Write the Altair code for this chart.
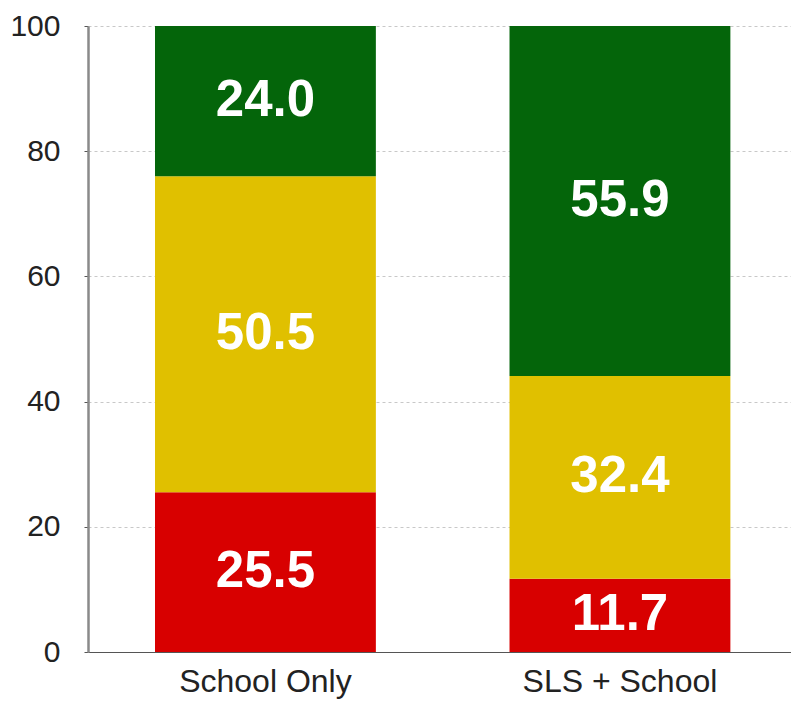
import altair as alt
import pandas as pd

categories = ["School Only", "SLS + School"]
levels = ["red", "yellow", "green"]
red_values = [25.5, 11.7]
yellow_values = [50.5, 32.4]
green_values = [24.0, 55.9]
level_colors = ["#D80000", "#E0C000", "#04650A"]
y_ticks = [0, 20, 40, 60, 80, 100]

rows = []
for i, cat in enumerate(categories):
    for j, (lvl, vals) in enumerate(zip(levels, [red_values, yellow_values, green_values])):
        rows.append({"category": cat, "level": lvl, "order": j, "value": vals[i]})
df = pd.DataFrame(rows)

FONT = "Liberation Sans"

base = alt.Chart(df).transform_stack(
    stack="value", groupby=["category"], as_=["y0", "y1"],
    sort=[alt.SortField("order", order="ascending")]
).transform_calculate(mid="(datum.y0 + datum.y1) / 2")

x_enc = alt.X(
    "category:N", sort=categories, title=None,
    scale=alt.Scale(paddingInner=0.377, paddingOuter=0.18, align=0.525),
    axis=alt.Axis(labelAngle=0, labelFontSize=32, labelFont=FONT, labelColor="#222222",
                  labelLimit=0, ticks=False, labelPadding=14,
                  domainColor="#555555", domainWidth=1.2),
)

bars = base.mark_bar().encode(
    x=x_enc,
    y=alt.Y("y0:Q", title=None, scale=alt.Scale(domain=[0, 100], nice=False),
            axis=alt.Axis(values=y_ticks, labelFontSize=30, labelFont=FONT, labelColor="#222222",
                          tickSize=4, tickColor="#555555", labelPadding=24,
                          domainColor="#8a8a8a", domainWidth=2.5,
                          grid=True, gridDash=[3, 3], gridColor="#c8c8c8", gridWidth=1)),
    y2="y1:Q",
    color=alt.Color("level:N", scale=alt.Scale(domain=levels, range=level_colors), legend=None),
)

labels = base.mark_text(
    color="white", font=FONT, fontWeight="bold", fontSize=51, baseline="middle", align="center"
).encode(
    x=alt.X("category:N", sort=categories),
    y=alt.Y("mid:Q"),
    text=alt.Text("value:Q", format=".1f"),
)

chart = (bars + labels).properties(
    width=703, height=626,
    autosize=alt.AutoSizeParams(type="none"),
    padding={"left": 80, "top": 18, "right": 0, "bottom": 48},
).configure_view(stroke=None)

chart.save("out.html", embed_options={"renderer": "svg", "actions": False})
